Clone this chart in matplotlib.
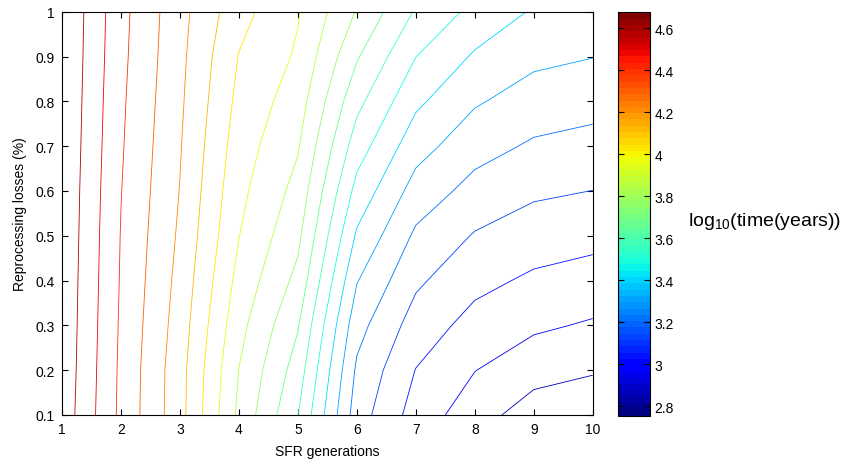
import numpy as np
import matplotlib
matplotlib.use("Agg")
import matplotlib.pyplot as plt
from matplotlib.colors import Normalize
from matplotlib.cm import ScalarMappable

plt.rcParams["font.family"] = ["Liberation Sans", "DejaVu Sans"]
plt.rcParams["mathtext.fontset"] = "custom"
plt.rcParams["mathtext.rm"] = "Liberation Sans"
plt.rcParams["mathtext.it"] = "Liberation Sans:italic"

# Grid axes
generations = [1, 2, 3, 4, 5, 6, 7, 8, 9, 10]
losses = [0.1, 0.2, 0.3, 0.4, 0.5, 0.6, 0.7, 0.8, 0.9, 1.0]

# log10(time in years) for each SFR generation, listed over reprocessing losses 0.1 .. 1.0
log_t_gen1 = [4.641, 4.648, 4.652, 4.655, 4.659, 4.662, 4.666, 4.670, 4.673, 4.676]
log_t_gen2 = [4.381, 4.384, 4.389, 4.394, 4.398, 4.404, 4.411, 4.417, 4.424, 4.429]
log_t_gen3 = [4.160, 4.162, 4.176, 4.190, 4.204, 4.216, 4.225, 4.234, 4.242, 4.249]
log_t_gen4 = [3.833, 3.851, 3.882, 3.915, 3.946, 3.968, 3.989, 4.011, 4.032, 4.068]
log_t_gen5 = [3.580, 3.628, 3.677, 3.736, 3.783, 3.823, 3.861, 3.897, 3.932, 3.951]
log_t_gen6 = [3.165, 3.197, 3.245, 3.309, 3.382, 3.456, 3.531, 3.604, 3.679, 3.755]
log_t_gen7 = [2.990, 3.027, 3.080, 3.137, 3.196, 3.266, 3.340, 3.414, 3.488, 3.569]
log_t_gen8 = [2.886, 2.940, 2.997, 3.055, 3.114, 3.181, 3.247, 3.314, 3.384, 3.461]
log_t_gen9 = [2.800, 2.882, 2.953, 3.014, 3.074, 3.136, 3.200, 3.263, 3.325, 3.386]
log_t_gen10 = [2.755, 2.858, 2.928, 2.993, 3.056, 3.120, 3.182, 3.244, 3.306, 3.369]

cbar_ticks = [2.8, 3.0, 3.2, 3.4, 3.6, 3.8, 4.0, 4.2, 4.4, 4.6]
cbar_ticklabels = ["2.8", "3", "3.2", "3.4", "3.6", "3.8", "4", "4.2", "4.4", "4.6"]
y_ticklabels = ["0.1", "0.2", "0.3", "0.4", "0.5", "0.6", "0.7", "0.8", "0.9", "1"]

Z = np.column_stack([log_t_gen1, log_t_gen2, log_t_gen3, log_t_gen4, log_t_gen5,
                     log_t_gen6, log_t_gen7, log_t_gen8, log_t_gen9, log_t_gen10])

zmin, zmax = Z.min(), Z.max()
n_lines = 20
levels = np.linspace(zmin, zmax, n_lines + 2)[1:-1]
cmap = plt.get_cmap("jet", 64)
norm = Normalize(vmin=zmin, vmax=zmax)

W, H = 843, 460
fig = plt.figure(figsize=(W / 100, H / 100), dpi=100)

# main contour axes
ax = fig.add_axes([62 / W, (H - 416) / H, (592.7 - 62) / W, (416 - 12.7) / H])
ax.contour(generations, losses, Z, levels=levels, cmap=cmap, norm=norm, linewidths=0.6)
ax.set_xlim(1, 10)
ax.set_ylim(0.1, 1.0)
ax.set_xticks(generations)
ax.set_yticks(losses)
ax.set_yticklabels(y_ticklabels)
ax.tick_params(direction="in", top=True, right=True, length=4, width=0.8,
               labelsize=10, pad=5)
for s in ax.spines.values():
    s.set_linewidth(0.8)
ax.set_xlabel("SFR generations", fontsize=10, labelpad=6)
ax.set_ylabel("Reprocessing losses (%)", fontsize=10, labelpad=6)

# colorbar
cax = fig.add_axes([618 / W, (H - 416.7) / H, 32 / W, (416.7 - 13.3) / H])
cb = fig.colorbar(ScalarMappable(norm=norm, cmap=cmap), cax=cax)
cb.set_ticks(cbar_ticks)
cb.set_ticklabels(cbar_ticklabels)
cb.outline.set_linewidth(0.8)
cax.tick_params(direction="in", length=4, width=0.8, labelsize=10, pad=3,
                left=True, right=True)
cax.minorticks_off()

fig.text(688 / W, 1 - 222 / H, r"log$_{10}$(time(years))", fontsize=14,
         va="center", ha="left")

fig.savefig("out.png", dpi=100)
